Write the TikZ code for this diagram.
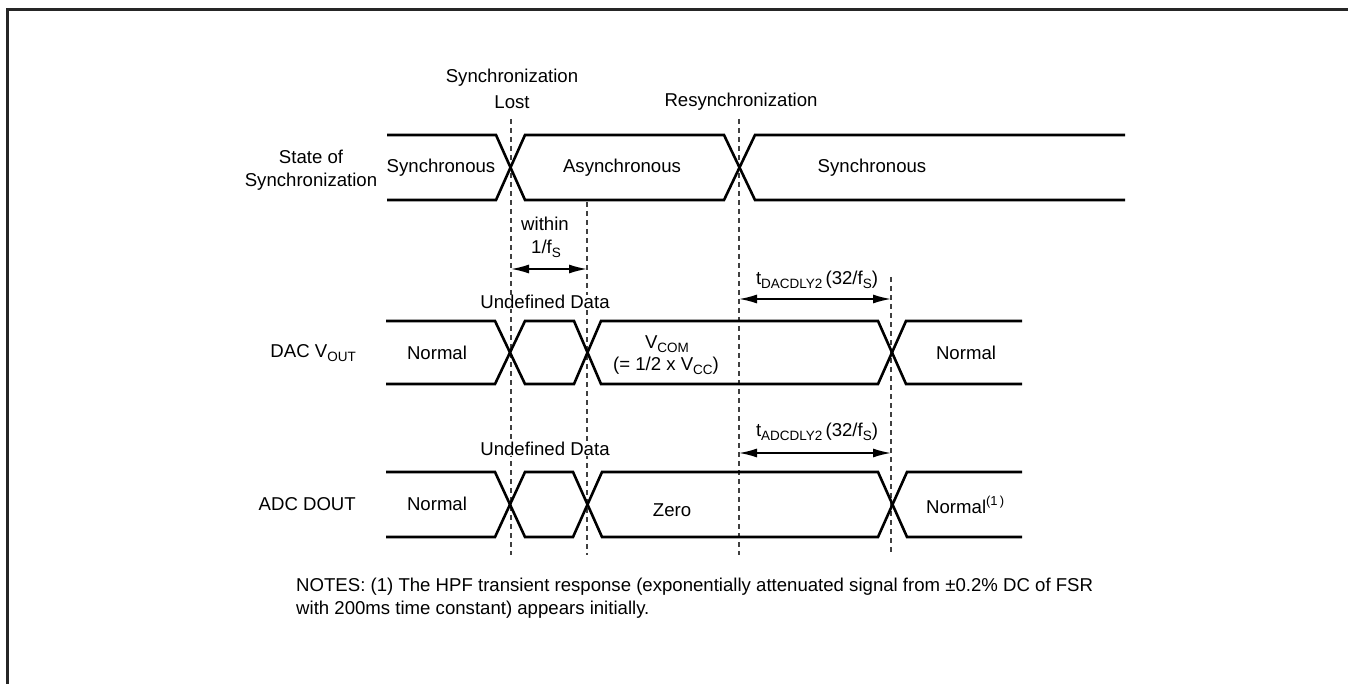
\documentclass[tikz,border=0pt]{standalone}
\usepackage{fontspec}
\setmainfont{Liberation Sans}
\usetikzlibrary{arrows.meta}
\newcommand\lowtxt[1]{\raisebox{-0.45ex}{\fontsize{13.5}{13.5}\selectfont #1}}
\newcommand\hightxt[1]{\raisebox{0.75ex}{\fontsize{13}{13}\selectfont #1}}
\begin{document}
\begin{tikzpicture}[x=1pt,y=-1pt,
  sig/.style={line width=2.6pt, line join=miter, black},
  guide/.style={line width=1.1pt, black!75, dash pattern=on 5pt off 4pt},
  dim/.style={line width=1.6pt, {Latex[length=18pt,width=9pt]}-{Latex[length=18pt,width=9pt]}},
  lbl/.style={inner sep=0pt, font=\fontsize{18.6}{23}\selectfont, align=center},
  frame/.style={line width=3pt, black!85}]
\useasboundingbox (0,0) rectangle (1348,684);
% frame
\coordinate (fTL) at (7,9.5);
\coordinate (fTR) at (1348,9.5);
\coordinate (fBL) at (7,684);
\draw[frame] (fTR) -- (fTL) -- (fBL);

% guide lines
\coordinate (gA1) at (511,119); \coordinate (gA2) at (511,555);
\coordinate (gB1) at (739,119); \coordinate (gB2) at (739,555);
\coordinate (gC1) at (587,202); \coordinate (gC2) at (587,555);
\coordinate (gD1) at (891,277); \coordinate (gD2) at (891,555);
\draw[guide] (gA1) -- (gA2);
\draw[guide] (gB1) -- (gB2);
\draw[guide] (gC1) -- (gC2);
\draw[guide] (gD1) -- (gD2);

% row 1: state of synchronization
\draw[sig] (387,135) -- (496,135) -- (525,200) -- (724,200) -- (755,135) -- (1125,135);
\draw[sig] (387,200) -- (496,200) -- (525,135) -- (724,135) -- (755,200) -- (1125,200);

% row 2: DAC VOUT
\draw[sig] (386,321) -- (495,321) -- (525,384) -- (574,384) -- (601,321) -- (878,321) -- (906,384) -- (1022,384);
\draw[sig] (386,384) -- (495,384) -- (525,321) -- (574,321) -- (601,384) -- (878,384) -- (906,321) -- (1022,321);

% row 3: ADC DOUT
\draw[sig] (386,472) -- (495,472) -- (525,537) -- (573,537) -- (602,472) -- (878,472) -- (907,537) -- (1022,537);
\draw[sig] (386,537) -- (495,537) -- (525,472) -- (573,472) -- (602,537) -- (878,537) -- (907,472) -- (1022,472);

% dimension arrows
\coordinate (wA) at (511,269); \coordinate (wB) at (587,269);
\coordinate (dA) at (739,299); \coordinate (dB) at (891,299);
\coordinate (aA) at (739,453); \coordinate (aB) at (891,453);
\draw[dim] (wA) -- (wB);
\draw[dim] (dA) -- (dB);
\draw[dim] (aA) -- (aB);

% labels
\node[lbl] (tSync) at (512,78) {Synchronization};
\node[lbl] (tLost) at (512,102) {Lost};
\node[lbl] (tResync) at (741,102) {Resynchronization};
\node[lbl] (tState) at (311,170) {State of\\Synchronization};
\node[lbl] (tS1) at (441,168) {Synchronous};
\node[lbl] (tAs) at (622,168) {Asynchronous};
\node[lbl] (tS2) at (872,168) {Synchronous};
\node[lbl] (tWithin) at (545,224) {within};
\node[lbl] (tFs) at (546,249) {1/f\lowtxt{S}};
\node[lbl, fill=white] (tUnd1) at (545,302) {Undefined Data};
\node[lbl] (tDacDly) at (817,280) {t\lowtxt{DACDLY2}\,(32/f\lowtxt{S})};
\node[lbl, anchor=east] (tDac) at (356,353) {DAC V\lowtxt{OUT}};
\node[lbl] (tN1) at (437,353) {Normal};
\node[lbl] (tVcom) at (667,344) {V\lowtxt{COM}};
\node[lbl] (tVcc) at (666,366) {(= 1/2 x V\lowtxt{CC})};
\node[lbl] (tN2) at (966,353) {Normal};
\node[lbl, fill=white] (tUnd2) at (545,449) {Undefined Data};
\node[lbl] (tAdcDly) at (817,432) {t\lowtxt{ADCDLY2}\,(32/f\lowtxt{S})};
\node[lbl, anchor=east] (tAdc) at (356,504) {ADC DOUT};
\node[lbl] (tN3) at (437,504) {Normal};
\node[lbl] (tZero) at (672,510) {Zero};
\node[lbl, anchor=west] (tN4) at (926,505) {Normal\hightxt{(1\,)}};
\node[lbl, anchor=west, align=left] (tNotes) at (296,598) {NOTES: (1) The HPF transient response (exponentially attenuated signal from ±0.2\% DC of FSR\\with 200ms time constant) appears initially.};
\end{tikzpicture}
\end{document}
